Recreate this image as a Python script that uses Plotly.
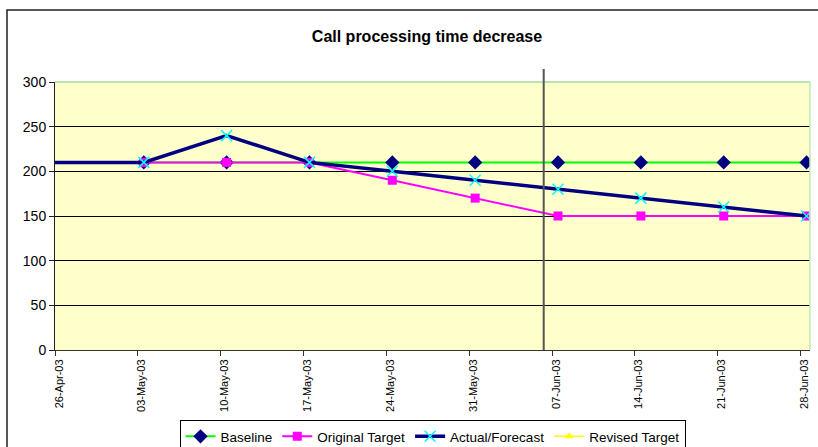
import plotly.graph_objects as go

# ---- data ----
tick_dates = ["2003-04-26", "2003-05-03", "2003-05-10", "2003-05-17", "2003-05-24",
              "2003-05-31", "2003-06-07", "2003-06-14", "2003-06-21", "2003-06-28"]

dates = ["2003-05-03", "2003-05-10", "2003-05-17", "2003-05-24", "2003-05-31",
         "2003-06-07", "2003-06-14", "2003-06-21", "2003-06-28"]
baseline = [210, 210, 210, 210, 210, 210, 210, 210, 210]
original_target = [210, 210, 210, 190, 170, 150, 150, 150, 150]

actual_dates = ["2003-04-19"] + dates
actual_forecast = [210, 210, 240, 210, 200, 190, 180, 170, 160, 150]

revised_target = [None] * len(dates)

today_marker = "2003-06-06 07:00"

FONT = "Arial, 'Liberation Sans', sans-serif"
DAY_MS = 86400000

# ---- layout geometry (pixels) ----
W, H = 818, 447
L, R, T, B = 55, 8, 82, 97
pw = W - L - R
ph = H - T - B

def px_x(x):
    return (x - L) / pw

def px_y(y):
    return (H - B - y) / ph

fig = go.Figure()

fig.add_trace(go.Scatter(
    x=dates, y=baseline, name="Baseline", mode="lines+markers",
    xperiod=DAY_MS, xperiodalignment="middle",
    line=dict(color="#00FF00", width=2),
    marker=dict(symbol="diamond", size=11, color="#000080"),
))
fig.add_trace(go.Scatter(
    x=dates, y=original_target, name="Original Target", mode="lines+markers",
    xperiod=DAY_MS, xperiodalignment="middle",
    line=dict(color="#FF00FF", width=2),
    marker=dict(symbol="square", size=9, color="#FF00FF"),
))
fig.add_trace(go.Scatter(
    x=actual_dates, y=actual_forecast, name="Actual/Forecast", mode="lines+markers",
    xperiod=DAY_MS, xperiodalignment="middle",
    line=dict(color="#000080", width=3.5),
    marker=dict(symbol="x-thin", size=11, color="#00FFFF",
                line=dict(color="#00FFFF", width=1.5)),
))
fig.add_trace(go.Scatter(
    x=dates, y=revised_target, name="Revised Target", mode="lines+markers",
    xperiod=DAY_MS, xperiodalignment="middle",
    line=dict(color="#FFFF00", width=1.5),
    marker=dict(symbol="triangle-up", size=8, color="#FFFF00"),
))

shapes = [
    # outer chart border (cropped on right and bottom)
    dict(type="rect", xref="paper", yref="paper",
         x0=px_x(7), x1=px_x(835), y0=px_y(10), y1=px_y(470),
         line=dict(color="#222222", width=1.5), fillcolor="rgba(0,0,0,0)", layer="below"),
    # plot area top and right edges
    dict(type="line", xref="paper", yref="paper", x0=0, x1=1, y0=1, y1=1,
         line=dict(color="#A8D8A0", width=1.5)),
    dict(type="line", xref="paper", yref="paper", x0=1, x1=1, y0=0, y1=1,
         line=dict(color="#C0E8B8", width=1.5)),
    # today marker
    dict(type="line", xref="x", yref="paper", x0=today_marker, x1=today_marker,
         y0=0, y1=px_y(69), line=dict(color="#555555", width=2)),
]

fig.update_layout(
    width=W, height=H,
    margin=dict(l=L, r=R, t=T, b=B, autoexpand=False),
    paper_bgcolor="white",
    plot_bgcolor="#FFFFCC",
    font=dict(family=FONT, color="black"),
    title=dict(text="<b>Call processing time decrease</b>", x=(427 - L) / pw, xref="paper",
               xanchor="center", y=1 - 36 / H, yanchor="middle",
               font=dict(size=16, family=FONT, color="black")),
    showlegend=True,
    hovermode=False,
    legend=dict(orientation="h", x=(L + pw / 2) / W, xanchor="center", xref="container",
                y=1 - 420 / H, yanchor="top", yref="container",
                bordercolor="black", borderwidth=1, bgcolor="white",
                font=dict(size=13.5, family=FONT), itemwidth=30,
                tracegroupgap=0),
    shapes=shapes,
)

fig.update_xaxes(
    type="date", automargin=False,
    range=["2003-04-26", "2003-06-28 19:00"],
    tickvals=tick_dates, tickformat="%d-%b-%y", tickangle=-90,
    tickfont=dict(size=11, family=FONT),
    ticks="outside", ticklen=5, tickcolor="#333333",
    ticklabelshift=4, ticklabelstandoff=-1,
    showgrid=False, zeroline=False,
    showline=True, linecolor="#333333", linewidth=1,
)
fig.update_yaxes(
    range=[0, 300], dtick=50, automargin=False,
    tickfont=dict(size=14, family=FONT),
    ticks="outside", ticklen=5, tickcolor="#222222",
    showgrid=True, gridcolor="black", gridwidth=1,
    zeroline=False,
    showline=True, linecolor="#222222", linewidth=1,
)

fig.write_html(
    "out.html",
    config={"displayModeBar": False},
    post_script="document.body.style.margin='0';document.body.style.overflow='hidden';",
)
